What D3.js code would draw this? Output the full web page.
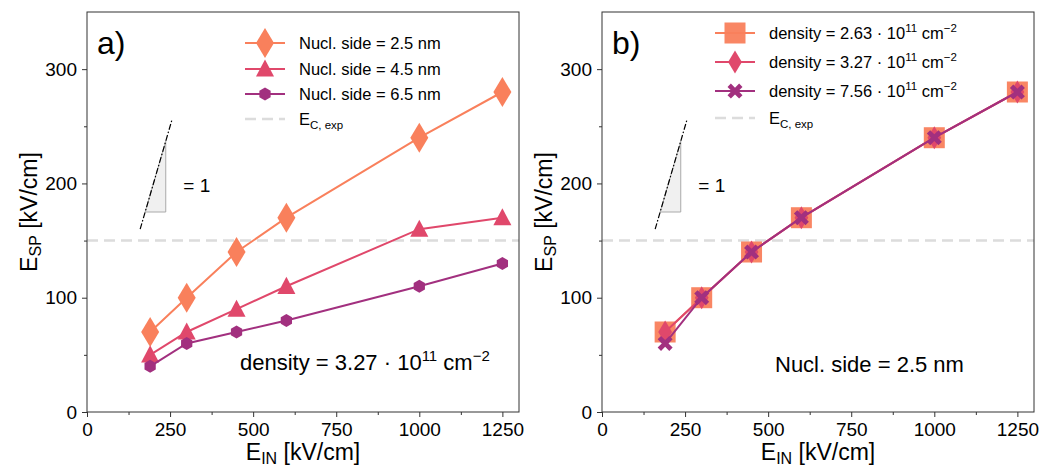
<!DOCTYPE html>
<html>
<head>
<meta charset="utf-8">
<script src="https://cdn.jsdelivr.net/npm/d3@7"></script>
<style>
  body { margin: 0; background: #fff; }
  svg text { font-family: "Liberation Sans", Arial, sans-serif; fill: #000; }
</style>
</head>
<body>
<div id="chart"></div>
<script>
// ---- data ----
const fieldIn = [190, 300, 450, 600, 1000, 1250];
const side25 = [70, 100, 140, 170, 240, 280];
const side45 = [50, 70, 90, 110, 160, 170];
const side65 = [40, 60, 70, 80, 110, 130];
const dens263 = [70, 100, 140, 170, 240, 280];
const dens327 = [70, 100, 140, 170, 240, 280];
const dens756 = [60, 100, 140, 170, 240, 280];
const xTicks = [0, 250, 500, 750, 1000, 1250];
const yTicks = [0, 100, 200, 300];
const ecExp = 150;

// custom marker shapes (size = half extent in px)
const thinDiamond = { draw(ctx, s) { const w = s * 0.6, h = s; ctx.moveTo(0, -h); ctx.lineTo(w, 0); ctx.lineTo(0, h); ctx.lineTo(-w, 0); ctx.closePath(); } };
const triangle = { draw(ctx, s) { ctx.moveTo(0, -s); ctx.lineTo(s * 0.95, s * 0.8); ctx.lineTo(-s * 0.95, s * 0.8); ctx.closePath(); } };
const hexagon = { draw(ctx, s) { for (let i = 0; i < 6; i++) { const a = Math.PI / 3 * i - Math.PI / 2; const px = s * Math.cos(a), py = s * Math.sin(a); i ? ctx.lineTo(px, py) : ctx.moveTo(px, py); } ctx.closePath(); } };
const square = { draw(ctx, s) { ctx.rect(-s, -s, 2 * s, 2 * s); } };
const xMark = { draw(ctx, s) {
  const t = s * 0.45;
  const pts = [[-s + t, -s], [0, -t], [s - t, -s], [s, -s + t], [t, 0], [s, s - t], [s - t, s], [0, t], [-s + t, s], [-s, s - t], [-t, 0], [-s, -s + t]];
  pts.forEach((p, i) => i ? ctx.lineTo(p[0], p[1]) : ctx.moveTo(p[0], p[1])); ctx.closePath(); } };

const panels = [
  {
    left: 87, tag: 'a)', note: 'density = 3.27 · 10', noteSup: '11', noteTail: ' cm', noteSup2: '−2', noteX: 240, noteY: 370,
    legX: 265, legText: 299, legRows: [43, 69, 94, 119],
    series: [
      { label: 'Nucl. side = 2.5 nm', values: side25, color: '#F9805C', shape: thinDiamond, size: 15, opacity: 1 },
      { label: 'Nucl. side = 4.5 nm', values: side45, color: '#E0486B', shape: triangle, size: 9.5, opacity: 1 },
      { label: 'Nucl. side = 6.5 nm', values: side65, color: '#A2307F', shape: hexagon, size: 6.5, opacity: 1 }
    ]
  },
  {
    left: 602, tag: 'b)', note: 'Nucl. side = 2.5 nm', noteX: 775, noteY: 372,
    legX: 735, legText: 769, legRows: [33, 62, 91, 118],
    series: [
      { label: 'density = 2.63 · 10', sup: '11', values: dens263, color: '#F9805C', shape: square, size: 10.5, opacity: 0.95 },
      { label: 'density = 3.27 · 10', sup: '11', values: dens327, color: '#E0486B', shape: thinDiamond, size: 11.5, opacity: 1 },
      { label: 'density = 7.56 · 10', sup: '11', values: dens756, color: '#A2307F', shape: xMark, size: 7.5, opacity: 1 }
    ]
  }
];

const width = 1039, height = 468;
const plotW = 432, plotTop = 12, plotBottom = 412;

const svg = d3.select('#chart').append('svg')
  .attr('width', width).attr('height', height);

panels.forEach(p => {
  const x = d3.scaleLinear().domain([0, 1300]).range([p.left, p.left + plotW]);
  const y = d3.scaleLinear().domain([0, 350]).range([plotBottom, plotTop]);
  const g = svg.append('g');

  // dashed reference line
  g.append('line')
    .attr('x1', x(0)).attr('x2', x(1300)).attr('y1', y(ecExp)).attr('y2', y(ecExp))
    .attr('stroke', '#dcdcdc').attr('stroke-width', 2.5).attr('stroke-dasharray', '11,6');

  // slope triangle (slope 1 in data units)
  g.append('path')
    .attr('d', `M${x(175)},${y(175)}L${x(237)},${y(175)}L${x(237)},${y(237)}Z`)
    .attr('fill', '#f0f0f0').attr('stroke', '#aaaaaa').attr('stroke-width', 1);
  g.append('line')
    .attr('x1', x(160)).attr('y1', y(160)).attr('x2', x(255)).attr('y2', y(255))
    .attr('stroke', '#000').attr('stroke-width', 1.2).attr('stroke-dasharray', '6,2,1.5,2');
  g.append('text').attr('x', x(290)).attr('y', y(200) + 9)
    .style('font-size', '19px').text('= 1');

  // series
  p.series.forEach(s => {
    const pts = fieldIn.map((v, i) => [v, s.values[i]]);
    g.append('path')
      .datum(pts)
      .attr('d', d3.line().x(d => x(d[0])).y(d => y(d[1])))
      .attr('fill', 'none').attr('stroke', s.color).attr('stroke-width', 2);
    g.selectAll(null).data(pts).enter().append('path')
      .attr('transform', d => `translate(${x(d[0])},${y(d[1])})`)
      .attr('d', d3.symbol().type(s.shape).size(s.size))
      .attr('fill', s.color).attr('fill-opacity', s.opacity);
  });

  // frame
  g.append('rect').attr('x', x(0)).attr('y', plotTop).attr('width', plotW).attr('height', plotBottom - plotTop)
    .attr('fill', 'none').attr('stroke', '#333').attr('stroke-width', 1);

  // axes
  const xAxis = g.append('g').attr('transform', `translate(0,${plotBottom})`)
    .call(d3.axisBottom(x).tickValues(xTicks).tickFormat(d3.format('d')).tickSize(5).tickPadding(3));
  g.append('g').attr('transform', `translate(0,${plotBottom})`)
    .call(d3.axisBottom(x).tickValues([125, 375, 625, 875, 1125]).tickSize(3).tickFormat(''));
  const yAxis = g.append('g').attr('transform', `translate(${x(0)},0)`)
    .call(d3.axisLeft(y).tickValues(yTicks).tickFormat(d3.format('d')).tickSize(5).tickPadding(5));
  g.append('g').attr('transform', `translate(${x(0)},0)`)
    .call(d3.axisLeft(y).tickValues([50, 150, 250]).tickSize(3).tickFormat(''));
  g.selectAll('.domain').remove();
  g.selectAll('.tick line').attr('stroke', '#333');
  xAxis.selectAll('text').style('font-size', '19px').attr('dy', '0.85em');
  yAxis.selectAll('text').style('font-size', '19px');

  // axis titles
  const xt = g.append('text').attr('x', x(650)).attr('y', 460).attr('text-anchor', 'middle').style('font-size', '23px');
  xt.append('tspan').text('E');
  xt.append('tspan').attr('dy', 4).style('font-size', '16px').text('IN');
  xt.append('tspan').attr('dy', -4).text(' [kV/cm]');
  const yt = g.append('text').attr('transform', `translate(${x(0) - 50},${y(175)}) rotate(-90)`)
    .attr('text-anchor', 'middle').style('font-size', '23px');
  yt.append('tspan').text('E');
  yt.append('tspan').attr('dy', 4).style('font-size', '16px').text('SP');
  yt.append('tspan').attr('dy', -4).text(' [kV/cm]');

  // panel tag
  g.append('text').attr('x', x(0) + 10).attr('y', 54).style('font-size', '32px').text(p.tag);

  // annotation
  const nt = g.append('text').attr('x', p.noteX).attr('y', p.noteY).style('font-size', '22px');
  nt.append('tspan').text(p.note);
  if (p.noteSup) {
    nt.append('tspan').attr('dy', -9).style('font-size', '15px').text(p.noteSup);
    nt.append('tspan').attr('dy', 9).text(p.noteTail);
    nt.append('tspan').attr('dy', -9).style('font-size', '15px').text(p.noteSup2);
  }

  // legend
  const leg = g.append('g');
  p.series.forEach((s, i) => {
    const ry = p.legRows[i];
    leg.append('line').attr('x1', p.legX - 20).attr('x2', p.legX + 20).attr('y1', ry).attr('y2', ry)
      .attr('stroke', s.color).attr('stroke-width', 2);
    leg.append('path').attr('transform', `translate(${p.legX},${ry})`)
      .attr('d', d3.symbol().type(s.shape).size(s.size)).attr('fill', s.color).attr('fill-opacity', s.opacity);
    const t = leg.append('text').attr('x', p.legText).attr('y', ry + 6).style('font-size', '16.5px');
    t.append('tspan').text(s.label);
    if (s.sup) {
      t.append('tspan').attr('dy', -7).style('font-size', '11.5px').text(s.sup);
      t.append('tspan').attr('dy', 7).text(' cm');
      t.append('tspan').attr('dy', -7).style('font-size', '11.5px').text('−2');
    }
  });
  const ry = p.legRows[3];
  leg.append('line').attr('x1', p.legX - 20).attr('x2', p.legX + 20).attr('y1', ry).attr('y2', ry)
    .attr('stroke', '#dcdcdc').attr('stroke-width', 2.5).attr('stroke-dasharray', '11,6');
  const et = leg.append('text').attr('x', p.legText).attr('y', ry + 6).style('font-size', '16.5px');
  et.append('tspan').text('E');
  et.append('tspan').attr('dy', 4).style('font-size', '11.5px').text('C, exp');
});
</script>
</body>
</html>
